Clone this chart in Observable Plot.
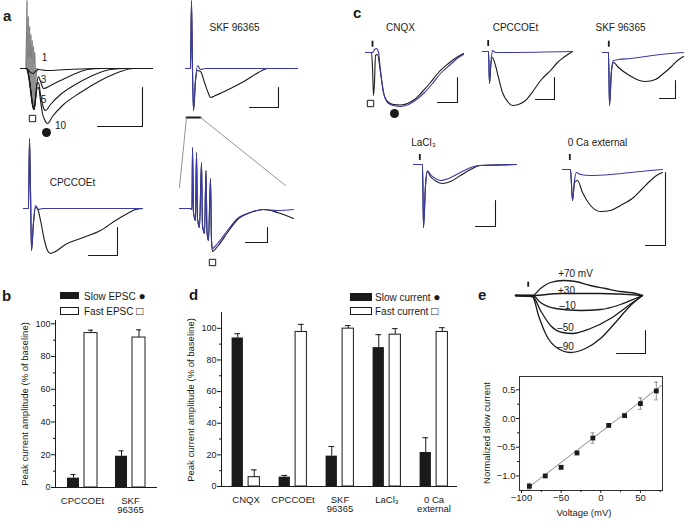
<!DOCTYPE html>
<html><head><meta charset="utf-8">
<script src="https://cdn.jsdelivr.net/npm/d3@7"></script>
<script src="https://cdn.jsdelivr.net/npm/@observablehq/plot@0.6"></script>
<style>
body{margin:0;background:#fff;}
#fig{position:relative;width:685px;height:522px;overflow:hidden;background:#fff;font-family:"Liberation Sans",Arial,Helvetica,sans-serif;color:#1a1a1a;}
.t{position:absolute;font-size:10px;line-height:1;white-space:nowrap;}
.t .sym{font-size:12px;line-height:10px;}
.letter{position:absolute;font-size:15px;font-weight:bold;line-height:1;}
.rot{position:absolute;font-size:9.5px;line-height:1;white-space:nowrap;transform:translate(-50%,-50%) rotate(-90deg);}
.sw{position:absolute;box-sizing:border-box;border:1px solid #1a1a1a;}
</style></head><body><div id="fig"></div>
<script>
// ================= DATA =================
// Panel b: peak current amplitude (% of baseline)
const bCategories = ["CPCCOEt", "SKF\n96365"];
const bSlow = [5.7, 19.1];
const bSlowErr = [2.2, 3.3];
const bFast = [94.3, 91.6];
const bFastErr = [1.8, 4.7];

// Panel d: peak current amplitude (% of baseline)
const dCategories = ["CNQX", "CPCCOEt", "SKF\n96365", "LaCl₃", "0 Ca\nexternal"];
const dSlow = [93.9, 5.9, 19.2, 87.8, 21.5];
const dSlowErr = [2.7, 1.1, 6.1, 8.2, 9.3];
const dFast = [5.9, 97.7, 99.8, 96.0, 97.7];
const dFastErr = [4.6, 4.8, 1.9, 3.8, 2.7];
const pctTicks = [0, 20, 40, 60, 80, 100];
const pctMinor = [10, 30, 50, 70, 90];

// Panel e: normalized slow current vs voltage
const eVoltage = [-90, -70, -50, -30, -10, 10, 30, 50, 70];
const eCurrent = [-1.18, -1.0, -0.85, -0.60, -0.34, -0.12, 0.05, 0.26, 0.48];
const eErr = [0.05, 0.02, 0.03, 0.03, 0.09, 0.02, 0.03, 0.10, 0.155];
const eFitV = [-92, 77];
const eFitI = [-1.21, 0.58];
const eXTicks = [-100, -50, 0, 50];
const eXMinor = [-75, -25, 25, 75];
const eYTicks = [-1, -0.5, 0, 0.5];
const eYMinor = [-0.75, -0.25, 0.25];

// Traces: [time from stimulus (ms, arbitrary units), current (baseline = 0, inward negative)]
// a: 1, 3, 5, 10 stimuli
const aGrayTrain = [[-0.5,0],[0.5,68],[1.3,10],[1.8,52],[2.6,12],[3.1,42],[3.9,12],[4.4,34],[5.2,10],[5.7,28],[6.5,8],[7,22],[7.8,5],[8.3,16],[9,0]];
const aGrayFast = [[-1,0],[1,-4],[3,-16],[5,-32],[6.5,-40],[7.5,-42],[8.5,-38],[9.5,-26],[10.5,-12],[11.5,-3],[12.5,0]];
const aTrace1 = [[-6,0],[0,0],[3,-3],[6,-5],[9,-3],[12,-1],[20,-2],[40,-1],[70,0],[126,0]];
const aTrace3 = [[-6,0],[0,0],[2,-6],[4,-20],[6,-36],[7.5,-41],[9,-30],[10.5,-14],[12,-8],[14,-13],[17,-20],[24,-17],[34,-12],[49,-5],[61,-1],[74,0],[126,0]];
const aTrace5 = [[-6,0],[0,0],[2,-6],[4,-20],[6,-36],[7.5,-41],[9,-30],[10.5,-16],[12,-14],[14,-26],[16,-36],[19,-42],[24,-36],[34,-26],[49,-16],[64,-8],[84,-1],[100,0],[126,0]];
const aTrace10 = [[-6,0],[0,0],[2,-6],[4,-20],[6,-36],[7.5,-41],[9,-32],[10.5,-20],[12,-19],[14,-32],[16,-45],[18,-51],[21,-55],[26,-48],[36,-37],[54,-24],[74,-12],[94,-3],[107,0],[126,0]];
const aTrainLabels = [[18,11,"1"],[17,-11,"3"],[17,-31,"5"],[34,-57,"10"]];
const aTrainScale = [[71,-58],[116,-58],[116,-19]];
// a: SKF 96365
const aSkfBlue = [[-6,0],[-1,0],[0,68],[1,-2],[2,-42],[4,-12],[6,3],[9,-1],[14,0],[106,0]];
const aSkfBlack = [[-6,0],[-1,0],[0,68],[1,-2],[2,-42],[4,-12],[6,-2],[9,-3],[13,-14],[17,-25],[19,-29],[24,-27],[39,-20],[54,-12],[67,-4],[76,0],[106,0]];
const aSkfScale = [[58,-39],[87,-39],[87,-19]];
const aSkfBracket = [[-5,-49],[9,-49]];
const aSkfZoomR = [[9,-49],[94,-117]];
const aSkfZoomL = [[-5,-49],[-12,-119]];
// a: CPCCOEt
const aCpBlue = [[-6,0],[-1,0],[0,70],[1,18],[2,-42],[4,-14],[6,3],[9,-1],[13,0],[113,0]];
const aCpBlack = [[-6,0],[-1,0],[0,70],[1,18],[2,-42],[4,-14],[6,1],[8,0],[11,-12],[15,-32],[18,-42],[21,-45],[26,-43],[36,-36],[51,-30],[71,-22],[86,-12],[98,-5],[106,-1],[113,0]];
const aCpScale = [[59,-47],[88,-47],[88,-19]];
// a: expanded train (SKF 96365)
const aZoomBlue = [[-13,0],[-2,0],[-0.5,-1],[0,61],[1,-4],[3,-12],[4,56],[5,-10],[7,-19],[9,46],[10,-17],[12,-25],[13.5,38],[14.5,-24],[16,-32],[18,30],[19,-32],[20,-40],[25,-35],[35,-22],[45,-10],[58,-4],[71,-1],[85,-2],[101,-1]];
const aZoomBlack = [[-13,0],[-2,0],[-0.5,-1],[0,61],[1,-4],[3,-12],[4,56],[5,-10],[7,-19],[9,46],[10,-17],[12,-25],[13.5,38],[14.5,-24],[16,-32],[18,30],[19,-32],[20,-43],[25,-38],[35,-24],[45,-11],[58,-4],[71,-1],[85,-4],[101,-10]];
const aZoomScale = [[53,-34],[75,-34],[75,-19]];

// c: CNQX
const cCnqxBlack = [[-7,0],[-1,0],[0,-15],[1,-43],[2,-30],[3,-3],[5,-2],[8,-20],[11,-40],[15,-49],[21,-52],[28,-52.5],[35,-51],[42,-47],[50,-39],[58,-30],[66,-20],[76,-11],[84,-5],[91,-1]];
const cCnqxBlue = [[-7,0],[0,0],[2,3],[4,4],[6,0],[8,-18],[11,-40],[15,-50],[21,-53],[28,-54],[36,-52],[44,-47],[52,-40],[60,-31],[68,-21],[78,-12],[86,-5],[91,-2]];
const cCnqxScale = [[65,-50],[85,-50],[85,-25]];
// c: CPCCOEt
const cCpBlue = [[-7,0],[-1,0],[0,-32],[1.5,-11],[3,1],[6,-1],[83,0]];
const cCpBlack = [[-7,0],[-1,0],[0,-32],[1.5,-11],[3,-6],[6,-14],[9,-26],[13,-41],[18,-50],[23,-54],[29,-53],[36,-49],[44,-39],[52,-28],[61,-19],[68,-11],[74,-6],[83,0]];
const cCpScale = [[46,-48],[65,-48],[65,-26]];
// c: SKF 96365
const cSkfBlue = [[-7,0],[-1,0],[0,-53],[2,-18],[4,-8],[9,-7],[21,-6],[36,-4],[51,-2],[74,0]];
const cSkfBlack = [[-7,0],[-1,0],[0,-53],[2,-18],[4,-10],[9,-15],[20,-23],[30,-28],[36,-29],[46,-27],[54,-21],[62,-14],[68,-8],[74,-4]];
const cSkfScale = [[50,-46],[66,-46],[66,-28]];
// c: LaCl3
const cLaBlue = [[-10,0],[-1,0],[0,-63],[2,-21],[4,-6],[7,-10],[12,-14],[17,-16],[25,-14],[35,-9],[45,-4],[55,-1],[93,0]];
const cLaBlack = [[-10,0],[-1,0],[0,-63],[2,-21],[4,-7],[7,-12],[13,-17],[19,-19],[27,-17],[37,-11],[47,-5],[57,-1],[93,0]];
const cLaScale = [[52,-62],[72,-62],[72,-36]];
// c: 0 Ca external
const cCaBlue = [[-10,0],[-2,0],[0,-31],[2,-11],[4,-3],[8,-5],[18,-6],[38,-5],[58,-3],[78,-1],[90,0]];
const cCaBlack = [[-10,0],[-2,0],[0,-31],[2,-13],[5,-11],[10,-23],[18,-36],[28,-42],[38,-41],[48,-36],[61,-28],[70,-19],[78,-11],[84,-6],[90,-3]];
const cCaScale = [[73,-76],[93,-76],[93,-3]];

// e: slow current at holding potentials
const eP70 = [[-17,0],[0,0],[8,7],[18,13],[31,15],[43,14],[58,10],[73,7],[88,4],[103,2],[110,0]];
const eP30 = [[-17,0],[0,0],[28,2],[68,2],[110,0]];
const eM10 = [[-17,0],[0,0],[8,-7],[23,-13],[48,-15],[68,-14],[88,-9],[103,-3],[110,0]];
const eM50 = [[-17,0],[0,-1],[8,-15],[18,-30],[30,-37],[40,-38],[58,-33],[78,-23],[96,-10],[110,0]];
const eM90 = [[-17,0],[0,-1],[6,-20],[14,-40],[24,-52],[38,-57],[53,-53],[68,-43],[83,-27],[98,-10],[110,0]];
const eTraceLabels = [[43,22,"+70 mV"],[34,5,"+30"],[35,-10,"–10"],[33,-32,"–50"],[33,-51,"–90"]];
const eTraceScale = [[84,-58],[113,-58],[113,-35]];

// ================= DRAWING =================
const FONT = '"Liberation Sans", Arial, Helvetica, sans-serif';
const INK = "#1a1a1a", BLUE = "#3a3aa6", GRAY = "#8f8f8f";
const fig = document.getElementById("fig");

function add(el, left, top) {
  el.style.position = "absolute";
  el.style.left = left + "px";
  el.style.top = top + "px";
  fig.appendChild(el);
}
function plot(opts, left, top) {
  add(Plot.plot({...opts, style: {background: "transparent", overflow: "visible", fontFamily: FONT, fontSize: "10px", color: INK}}), left, top);
}
function html(cls, str, left, top, extra, sym) {
  const d = document.createElement("div");
  d.className = cls; d.textContent = str;
  if (sym) { const s = document.createElement("span"); s.className = "sym"; s.textContent = sym; d.appendChild(s); }
  d.style.left = left + "px"; d.style.top = top + "px";
  if (extra) Object.assign(d.style, extra);
  fig.appendChild(d);
}
function swatch(left, top, w, h, fill) {
  const d = document.createElement("div");
  d.className = "sw";
  Object.assign(d.style, {left: left+"px", top: top+"px", width: w+"px", height: h+"px", background: fill});
  fig.appendChild(d);
}

const X = d => d[0], Y = d => d[1];
const line = (data, stroke, w = 1.1) => Plot.line(data, {x: X, y: Y, stroke, strokeWidth: w, curve: "monotone-x"});
const bar = data => Plot.line(data, {x: X, y: Y, stroke: INK, strokeWidth: 1.1});
const stim = (t, a, b) => Plot.ruleX([t], {x: d => d, y1: () => a, y2: () => b, stroke: INK, strokeWidth: 1.8});
const notes = (data, o = {}) => Plot.text(data, {x: X, y: Y, text: d => d[2], fontSize: 10, fill: INK, ...o});
const title = (t, I, s) => Plot.text([[t, I, s]], {x: X, y: Y, text: d => d[2], fontSize: 10, fill: INK});
const square = (t, I) => Plot.dot([[t, I]], {x: X, y: Y, symbol: "square", r: 3.6, fill: "white", stroke: INK, strokeWidth: 1});
const blob = (t, I) => Plot.dot([[t, I]], {x: X, y: Y, r: 4.5, fill: INK});
const blank = () => "";

function traces({left, top, width, height, x0, y0}, marks) {
  plot({width, height, margin: 0,
    x: {domain: [left - x0, left + width - x0], axis: null},
    y: {domain: [y0 - top - height, y0 - top], axis: null},
    marks}, left, top);
}

// ---- panel a ----
traces({left: 15, top: 0, width: 140, height: 140, x0: 26, y0: 68}, [
  Plot.areaY(aGrayTrain, {x: X, y: Y, fill: GRAY}),
  Plot.line(aGrayTrain, {x: X, y: Y, stroke: "#7a7a7a", strokeWidth: 0.8}),
  Plot.areaY(aGrayFast, {x: X, y: Y, fill: GRAY, curve: "monotone-x"}),
  line(aTrace1, INK), line(aTrace3, INK), line(aTrace5, INK), line(aTrace10, INK),
  notes(aTrainLabels),
  square(6, -50), blob(20, -64),
  bar(aTrainScale)
]);
traces({left: 175, top: 0, width: 125, height: 195, x0: 191, y0: 68}, [
  line(aSkfBlack, INK), line(aSkfBlue, BLUE),
  title(43, 41, "SKF 96365"),
  bar(aSkfScale),
  line(aSkfBracket, INK, 2),
  Plot.line(aSkfZoomR, {x: X, y: Y, stroke: "#777", strokeWidth: 0.8}),
  Plot.line(aSkfZoomL, {x: X, y: Y, stroke: "#777", strokeWidth: 0.8})
]);
traces({left: 15, top: 130, width: 135, height: 135, x0: 29, y0: 208}, [
  line(aCpBlack, INK), line(aCpBlue, BLUE),
  title(43, 26, "CPCCOEt"),
  bar(aCpScale)
]);
traces({left: 175, top: 140, width: 125, height: 130, x0: 192, y0: 208}, [
  line(aZoomBlack, INK), line(aZoomBlue, BLUE),
  square(20, -54),
  bar(aZoomScale)
]);

// ---- panel c ----
traces({left: 355, top: 15, width: 115, height: 105, x0: 372, y0: 52}, [
  line(cCnqxBlack, INK), line(cCnqxBlue, BLUE),
  title(28, 25, "CNQX"), stim(0, 5.3, 11.3),
  square(-2, -51), blob(22, -61),
  bar(cCnqxScale)
]);
traces({left: 478, top: 15, width: 100, height: 100, x0: 489, y0: 51}, [
  line(cCpBlack, INK), line(cCpBlue, BLUE),
  title(26, 24, "CPCCOEt"), stim(-1.3, 5, 11),
  bar(cCpScale)
]);
traces({left: 598, top: 15, width: 87, height: 100, x0: 609, y0: 52}, [
  line(cSkfBlack, INK), line(cSkfBlue, BLUE),
  title(11, 25, "SKF 96365"), stim(-0.7, 5.3, 11.3),
  bar(cSkfScale)
]);
traces({left: 405, top: 135, width: 115, height: 100, x0: 423, y0: 164}, [
  line(cLaBlack, INK), line(cLaBlue, BLUE),
  title(0, 22, "LaCl₃"), stim(-3.7, 4, 10),
  bar(cLaScale)
]);
traces({left: 555, top: 135, width: 115, height: 115, x0: 572, y0: 169}, [
  line(cCaBlack, INK), line(cCaBlue, BLUE),
  title(25, 27, "0 Ca external"), stim(-2.7, 9, 15),
  bar(cCaScale)
]);

// ---- panel e traces ----
traces({left: 505, top: 262, width: 150, height: 100, x0: 532, y0: 295}, [
  line(eP70, INK, 1.3), line(eP30, INK, 1.3), line(eM10, INK, 1.3), line(eM50, INK, 1.3), line(eM90, INK, 1.3),
  notes(eTraceLabels),
  stim(-4.3, 8.3, 13.3),
  bar(eTraceScale)
]);

// ---- bar charts ----
function barChart(c) {
  const rows = c.cats.map((cat, i) => ({cat, slow: c.slow[i], slowTop: c.slow[i] + c.slowErr[i], fast: c.fast[i], fastTop: c.fast[i] + c.fastErr[i]}));
  const capIn = c.half - 3;
  plot({width: c.width, height: c.height, marginLeft: c.mL, marginRight: c.mR, marginTop: c.mT, marginBottom: c.mB,
    x: {domain: c.cats, paddingInner: 0, paddingOuter: c.padOuter},
    y: {domain: [0, c.yMax]},
    marks: [
      Plot.ruleX(rows, {x: "cat", y1: "slow", y2: "slowTop", dx: c.off[0], stroke: INK}),
      Plot.tickY(rows, {x: "cat", y: "slowTop", dx: c.off[0], insetLeft: capIn, insetRight: capIn, stroke: INK}),
      Plot.ruleX(rows, {x: "cat", y1: "fast", y2: "fastTop", dx: c.off[1], stroke: INK}),
      Plot.tickY(rows, {x: "cat", y: "fastTop", dx: c.off[1], insetLeft: capIn, insetRight: capIn, stroke: INK}),
      Plot.barY(rows, {x: "cat", y: "slow", fill: INK, insetLeft: c.sIn[0], insetRight: c.sIn[1]}),
      Plot.barY(rows, {x: "cat", y: "fast", fill: "white", stroke: INK, strokeWidth: 1, insetLeft: c.fIn[0], insetRight: c.fIn[1]}),
      Plot.ruleY([0], {stroke: INK}),
      Plot.frame({anchor: "left", stroke: INK}),
      Plot.axisY({ticks: pctTicks, tickSize: 4, tickPadding: 1, label: null, fontSize: 9}),
      Plot.axisY({ticks: pctMinor, tickSize: 2, tickFormat: blank, label: null}),
      Plot.axisX({tickSize: 0, tickPadding: 9.5, label: null, fontSize: 9.5})
    ]}, c.left, c.top);
}
barChart({cats: bCategories, slow: bSlow, slowErr: bSlowErr, fast: bFast, fastErr: bFastErr,
  left: 0, top: 280, width: 180, height: 242, mL: 55, mR: 23, mT: 40, mB: 35, yMax: 102, padOuter: 0.05,
  half: 24.5, sIn: [9, 27], fIn: [26, 9], off: [-9, 8.5]});
barChart({cats: dCategories, slow: dSlow, slowErr: dSlowErr, fast: dFast, fastErr: dFastErr,
  left: 180, top: 280, width: 300, height: 242, mL: 41, mR: 23, mT: 32, mB: 36, yMax: 110, padOuter: 0,
  half: 23.6, sIn: [9.6, 26.1], fIn: [26.1, 9.6], off: [-8.25, 8.25]});

// ---- panel e I-V ----
const ivRows = eVoltage.map((v, i) => ({v, i: eCurrent[i], lo: eCurrent[i] - eErr[i], hi: eCurrent[i] + eErr[i]}));
const fitRows = eFitV.map((v, i) => ({v, i: eFitI[i]}));
plot({width: 205, height: 157, marginLeft: 39, marginRight: 23, marginTop: 11, marginBottom: 32,
  x: {domain: [-102.5, 77.8]},
  y: {domain: [-1.254, 0.732]},
  marks: [
    Plot.frame({stroke: "#333"}),
    Plot.line(fitRows, {x: "v", y: "i", stroke: "#888", strokeWidth: 1}),
    Plot.ruleX(ivRows, {x: "v", y1: "lo", y2: "hi", stroke: "#777", strokeWidth: 0.8}),
    Plot.ruleY(ivRows, {y: "hi", x1: d => d.v - 2.5, x2: d => d.v + 2.5, stroke: "#777", strokeWidth: 0.8}),
    Plot.ruleY(ivRows, {y: "lo", x1: d => d.v - 2.5, x2: d => d.v + 2.5, stroke: "#777", strokeWidth: 0.8}),
    Plot.dot(ivRows, {x: "v", y: "i", symbol: "square", r: 2.7, fill: INK}),
    Plot.axisX({ticks: eXTicks, tickSize: 3, tickPadding: 1, tickFormat: d3.format("d"), label: null, fontSize: 9.5}),
    Plot.axisX({ticks: eXMinor, tickSize: 2, tickFormat: blank, label: null}),
    Plot.axisY({ticks: eYTicks, tickSize: 3, tickPadding: 1, tickFormat: d3.format(".1f"), label: null, fontSize: 9.5}),
    Plot.axisY({ticks: eYMinor, tickSize: 2, tickFormat: blank, label: null})
  ]}, 480, 365);

// ---- text: panel letters, legends, axis titles ----
html("letter", "a", 3, 8);
html("letter", "b", 2, 288);
html("letter", "c", 353, 5);
html("letter", "d", 189, 287);
html("letter", "e", 478, 287);

swatch(60, 292, 19, 7, INK);
html("t", "Slow EPSC ", 84, 291, null, "●");
swatch(60, 307, 19, 8, "white");
html("t", "Fast EPSC ", 84, 306, null, "□");

swatch(350, 293, 22, 8, INK);
html("t", "Slow current ", 375, 292, null, "●");
swatch(350, 307, 22, 8, "white");
html("t", "Fast current ", 375, 306, null, "□");

html("rot", "Peak current amplitude (% of baseline)", 25, 404);
html("rot", "Peak current amplitude (% of baseline)", 191, 400);
html("rot", "Normalized slow current", 487, 433);
html("t", "Voltage (mV)", 584, 508, {transform: "translateX(-50%)", fontSize: "9.5px"});
</script></body></html>
